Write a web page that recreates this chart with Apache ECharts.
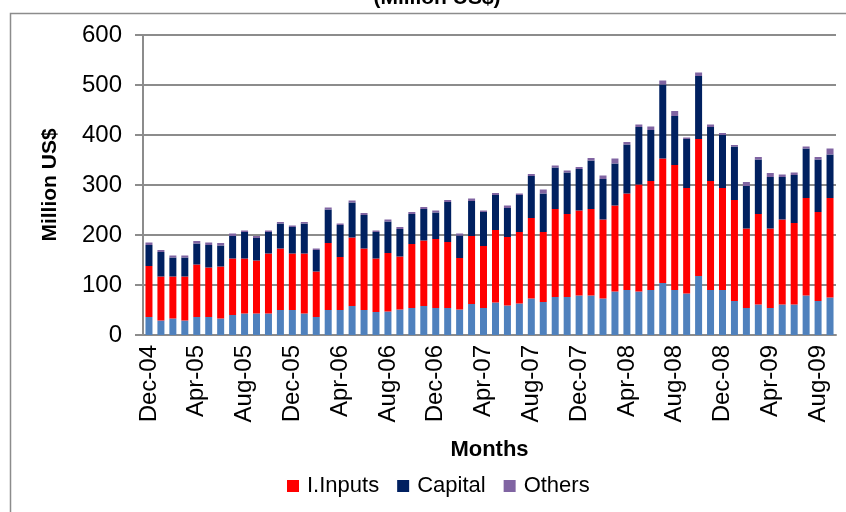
<!DOCTYPE html>
<html><head><meta charset="utf-8">
<script src="https://cdn.jsdelivr.net/npm/echarts@6/dist/echarts.min.js"></script>
<style>html,body{margin:0;padding:0;background:#fff}#c{width:846px;height:512px}</style>
</head><body><div id="c"></div>
<script>
const months = ['Dec-04','Jan-05','Feb-05','Mar-05','Apr-05','May-05','Jun-05','Jul-05','Aug-05','Sep-05','Oct-05','Nov-05','Dec-05',
'Jan-06','Feb-06','Mar-06','Apr-06','May-06','Jun-06','Jul-06','Aug-06','Sep-06','Oct-06','Nov-06','Dec-06',
'Jan-07','Feb-07','Mar-07','Apr-07','May-07','Jun-07','Jul-07','Aug-07','Sep-07','Oct-07','Nov-07','Dec-07',
'Jan-08','Feb-08','Mar-08','Apr-08','May-08','Jun-08','Jul-08','Aug-08','Sep-08','Oct-08','Nov-08','Dec-08',
'Jan-09','Feb-09','Mar-09','Apr-09','May-09','Jun-09','Jul-09','Aug-09','Sep-09'];
const consumer = [36,29,33,29,36,36,33,40,43,43,43,50,50,43,36,50,50,58,50,46,47,51,54,58,54,54,51,62,54,65,59,63,73,66,76,76,79,79,73,87,90,87,90,104,90,83,118,90,90,68,54,61,54,61,61,79,68,75];
const inputs = [102,88,84,88,105,99,104,113,110,106,120,123,113,120,91,134,106,137,123,107,117,106,128,131,138,132,103,136,124,145,137,143,161,140,176,166,170,173,158,172,193,214,218,249,250,211,274,218,204,202,159,181,159,170,163,195,178,199];
const capital = [42,49,38,38,42,45,42,45,53,45,43,50,53,60,43,67,64,70,67,53,63,55,60,63,53,80,45,70,68,70,58,74,84,77,83,83,83,97,81,84,98,115,102,148,98,98,126,108,106,107,85,109,103,85,96,99,105,87];
const others = [5,4,4,4,5,5,5,5,3,4,3,3,3,3,3,4,3,4,4,3,4,4,4,4,4,4,4,5,3,4,5,3,4,8,4,4,4,5,7,10,5,5,7,8,10,3,7,5,4,3,8,5,8,5,5,4,5,12];
const yTicks = [0,100,200,300,400,500,600];

const chart = echarts.init(document.getElementById('c'), null, {renderer:'canvas'});
const font = 'Liberation Sans, Arial, sans-serif';
const mk = (name, data, color) => ({name, type:'bar', stack:'t', data, barWidth:7,
  itemStyle:{color}, emphasis:{disabled:true}});
chart.setOption({
  animation:false,
  textStyle:{fontFamily:font},
  graphic:[
    {type:'rect', shape:{x:10.5,y:13.5,width:900,height:600}, style:{fill:'none', stroke:'#8c8c8c', lineWidth:1.5}, silent:true},
    {type:'text', style:{text:'(Million US$)', x:437, y:9, textAlign:'center', textVerticalAlign:'bottom', font:'bold 21px Liberation Sans, Arial', fill:'#000'}}
  ],
  grid:{left:143, right:10, top:35, bottom:177, containLabel:false},
  legend:{data:['I.Inputs','Capital','Others'], left:282, top:470, itemWidth:12, itemHeight:12, itemGap:18,
    icon:'rect', textStyle:{fontSize:22, color:'#000', fontFamily:font, padding:[0,0,0,3]}},
  xAxis:{type:'category', data:months, name:'Months', nameLocation:'middle', nameGap:104,
    nameTextStyle:{fontSize:22, fontWeight:'bold', color:'#000'},
    axisLine:{lineStyle:{color:'#8c8c8c', width:2}}, axisTick:{show:false},
    axisLabel:{interval:3, rotate:90, fontSize:24, color:'#000', margin:10}},
  yAxis:{type:'value', min:yTicks[0], max:yTicks[yTicks.length-1], interval:100,
    name:'Million US$', nameLocation:'middle', nameGap:82, nameRotate:90,
    nameTextStyle:{fontSize:21, fontWeight:'bold', color:'#000'},
    axisLine:{show:true, lineStyle:{color:'#8c8c8c', width:2}},
    axisTick:{show:true, length:8, lineStyle:{color:'#8c8c8c', width:2}},
    splitLine:{lineStyle:{color:'#8c8c8c', width:2}},
    axisLabel:{fontSize:24, color:'#000', margin:21}},
  series:[
    mk('Consumer', consumer, '#4F81BD'),
    mk('I.Inputs', inputs, '#FF0000'),
    mk('Capital', capital, '#002060'),
    mk('Others', others, '#8064A2')
  ]
});
</script></body></html>
